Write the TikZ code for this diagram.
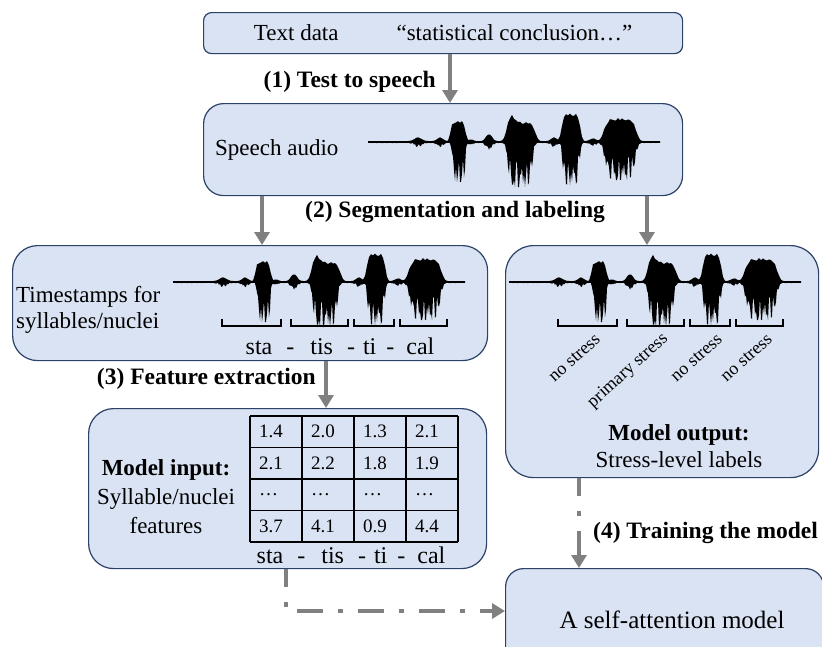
\documentclass[tikz,border=0pt]{standalone}
\usepackage{fontspec}
\setmainfont{Liberation Serif}
\usepackage{tikz}
\usetikzlibrary{arrows.meta}
\definecolor{boxfill}{RGB}{218,227,243}
\definecolor{boxline}{RGB}{44,66,104}
\definecolor{arrgray}{RGB}{128,128,128}
\newcommand{\sylrow}{sta\hspace{14pt}-\hspace{16pt}tis\hspace{14pt}-\hspace{8pt}ti\hspace{10pt}-\hspace{12pt}cal}
\tikzset{
  box/.style={draw=boxline, fill=boxfill, line width=1.2pt, rounded corners=#1, inner sep=0pt, anchor=north west},
  box/.default=20pt,
  txt/.style={font=\fontsize{23}{27}\selectfont, inner sep=0pt},
  lab/.style={font=\fontsize{23.5}{28}\selectfont\bfseries, inner sep=0pt},
  num/.style={font=\fontsize{19}{22}\selectfont, inner sep=0pt, anchor=west},
  stresslab/.style={font=\fontsize{18}{21}\selectfont, rotate=42, anchor=east, inner sep=0pt},
  brk/.style={line width=1.4pt},
  arr/.style={draw=arrgray, line width=4.5pt, -{Triangle[length=13pt,width=15pt]}},
  dashdot/.style={arr, dash pattern=on 26pt off 15pt on 5pt off 15pt, dash phase=8pt},
  waveform/.pic={
    \fill plot[domain=0:292,samples=147] (\x,{-wtop(\x)*(0.85+0.15*rn(\x))})
      -- plot[domain=292:0,samples=293] (\x,{wbot(\x)*(0.4+0.6*min(1,2*rn(\x+0.5)))}) -- cycle;
    \draw[line width=1.6pt] (0,0) -- (292,0);
  }
}
\begin{document}
\begin{tikzpicture}[x=1pt,y=-1pt,
  declare function={
    gs(\wx,\wc,\ws)=exp(-pow(min(abs(\wx-\wc)/\ws,3),2));
    fl(\wx,\wc,\ws)=exp(-pow(min(abs(\wx-\wc)/\ws,1.45),6));
    rn(\wx)=abs(sin(53*\wx)*cos(37*\wx+40*sin(11*\wx)));
    wtop(\wx)=1+4*gs(\wx,50,5)+4*gs(\wx,72,4)+21*fl(\wx,90,8)+2*gs(\wx,103,3)+8*gs(\wx,121,4)+20*fl(\wx,153,15)+9*gs(\wx,143,5)+4*gs(\wx,186,4)+29*fl(\wx,203,10)+3*gs(\wx,225,4)+24*fl(\wx,252,17);
    wbot(\wx)=1+4*gs(\wx,50,5)+4*gs(\wx,72,4)+39*fl(\wx,91,7)+2*gs(\wx,103,3)+7*gs(\wx,121,4)+44*fl(\wx,152,13)+4*gs(\wx,186,4)+42*fl(\wx,203,9)+3*gs(\wx,225,4)+37*fl(\wx,252,16);
  }]
\useasboundingbox (0,0) rectangle (822,646);
\clip (0,0) rectangle (822,646);
% boxes
\node[box=8pt, txt, minimum width=479pt, minimum height=41pt] (textdata) at (203,12) {Text data\hspace{58pt}“statistical conclusion…”};
\node[box, minimum width=479pt, minimum height=92pt] (speech) at (203,103) {};
\node[box=25pt, minimum width=475pt, minimum height=115pt] (stamps) at (12,245) {};
\node[box=28pt, minimum width=313pt, minimum height=232pt] (output) at (505,245) {};
\node[box=25pt, minimum width=398pt, minimum height=160pt] (input) at (88,408) {};
\node[box=18pt, minimum width=318pt, minimum height=110pt] (selfatt) at (505,568) {};
% waveforms and brackets
\pic (wavea) at (368,142) {waveform};
\pic (waveb) at (173,282) {waveform};
\pic (wavec) at (509,282) {waveform};
\foreach \wl in {173,509}
  \foreach \ba/\bb in {49/108,118/175,181/221,227/274}
    \draw[brk] (\wl+\ba,319) |- (\wl+\bb,326) -- (\wl+\bb,319);
% texts
\node[txt, anchor=west] (speechtxt) at (215,150) {Speech audio};
\node[txt, align=left, anchor=west, font=\fontsize{23}{26}\selectfont] (stamptxt) at (16,310) {Timestamps for\\syllables/nuclei};
\node[txt, font=\fontsize{24}{28}\selectfont] (syla) at (340,346) {\sylrow};
\foreach \sx/\sl [count=\k] in {598/no stress,666/primary stress,720/no stress,770/no stress}
  \node[stresslab] (stress\k) at (\sx,337) {\sl};
\node[txt, align=center] (outtxt) at (679,446) {\textbf{Model output:}\\Stress-level labels};
\node[txt, align=center, font=\fontsize{23}{29}\selectfont] (intxt) at (166,497) {\textbf{Model input:}\\Syllable/nuclei\\features};
\node[txt, font=\fontsize{24}{28}\selectfont] (sylb) at (351,555) {\sylrow};
\node[txt, font=\fontsize{25}{30}\selectfont] (satxt) at (672,620) {A self-attention model};
% table
\foreach \i in {0,...,4}
  \draw[line width=1.3pt] (250+52*\i,416) -- (250+52*\i,542);
\foreach \j in {0,...,4}
  \draw[line width=1.3pt] (250,416+31.5*\j) -- (458,416+31.5*\j);
\foreach \row [count=\j from 0] in {{1.4,2.0,1.3,2.1},{2.1,2.2,1.8,1.9},{…,…,…,…},{3.7,4.1,0.9,4.4}}
  \foreach \v [count=\i from 0] in \row
    \node[num] (c\j\i) at (259+52*\i,431.75+31.5*\j) {\v};
% step labels
\node[lab, anchor=east] (stepa) at (436,82) {(1) Test to speech};
\node[lab] (stepb) at (455,212) {(2) Segmentation and labeling};
\node[lab, anchor=east] (stepc) at (316,379) {(3) Feature extraction};
\node[lab, anchor=west] (stepd) at (593,533) {(4) Training the model};
% arrows
\draw[arr] (textdata.south -| 450,0) -- (speech.north -| 450,0);
\draw[arr] (speech.south -| 262,0) -- (stamps.north -| 262,0);
\draw[arr] (speech.south -| 647,0) -- (output.north -| 647,0);
\draw[arr] (stamps.south -| 326,0) -- (input.north -| 326,0);
\draw[dashdot] (output.south -| 579,0) -- (selfatt.north -| 579,0);
\draw[dashdot] (input.south -| 286,0) |- (selfatt.west |- 0,611);
\end{tikzpicture}
\end{document}
